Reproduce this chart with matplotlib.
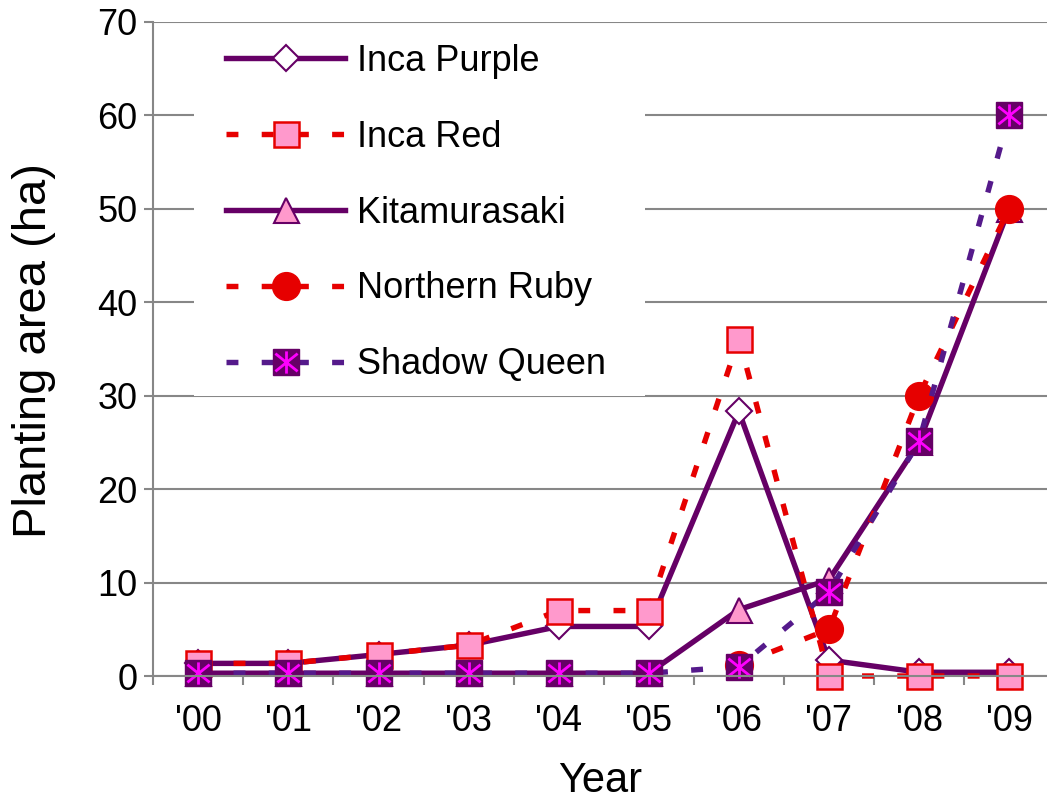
import numpy as np
import matplotlib
matplotlib.use("Agg")
import matplotlib.pyplot as plt
from matplotlib.path import Path
from matplotlib.patches import Rectangle

plt.rcParams["font.family"] = ["Liberation Sans", "DejaVu Sans"]

# Planting area (ha) per cultivar, 2000-2009
years = ["'00", "'01", "'02", "'03", "'04", "'05", "'06", "'07", "'08", "'09"]
inca_purple = [1.35, 1.35, 2.3, 3.3, 5.3, 5.3, 28.3, 1.7, 0.4, 0.4]
inca_red = [1.35, 1.35, 2.3, 3.3, 7.0, 7.0, 36.1, 0.0, 0.0, 0.0]
kitamurasaki = [0.3, 0.3, 0.3, 0.3, 0.3, 0.3, 7.1, 10.3, 25.0, 50.0]
northern_ruby = [np.nan, np.nan, np.nan, np.nan, np.nan, np.nan, 1.2, 5.0, 30.0, 50.0]
shadow_queen = [0.3, 0.3, 0.3, 0.3, 0.3, 0.3, 1.0, 9.0, 25.1, 60.0]

PURPLE = "#660066"
RED = "#E60000"
PINK = "#FF99CC"
INDIGO = "#551A8B"
MAGENTA = "#FF00FF"
GRID = "#878787"

# square-with-asterisk marker: vertical bar plus an X
star = Path(
    [(0, -1), (0, 1), (-1, -0.8), (1, 0.8), (-1, 0.8), (1, -0.8)],
    [Path.MOVETO, Path.LINETO, Path.MOVETO, Path.LINETO, Path.MOVETO, Path.LINETO],
)
dash = (0, (2.2, 4.3))
LW = 3.9

fig = plt.figure(figsize=(10.47, 8), dpi=100)
ax = fig.add_axes([0.1464, 0.155, 0.8536, 0.8179])
x = np.arange(len(years))

l1, = ax.plot(x, inca_purple, color=PURPLE, lw=LW, marker="D", ms=13.5,
              mfc="white", mec=PURPLE, mew=1.5, clip_on=False)
l2, = ax.plot(x, inca_red, color=RED, lw=LW, ls=dash, marker="s", ms=18,
              mfc=PINK, mec=RED, mew=1.8, clip_on=False)
l3, = ax.plot(x, kitamurasaki, color=PURPLE, lw=LW, marker="^", ms=18,
              mfc=PINK, mec=PURPLE, mew=1.5, clip_on=False)
l4, = ax.plot(x, northern_ruby, color=RED, lw=LW, ls=dash, marker="o", ms=20,
              mfc=RED, mec=RED, clip_on=False)
l5, = ax.plot(x, shadow_queen, color=INDIGO, lw=LW, ls=dash, marker="s", ms=19,
              mfc=PURPLE, mec=PURPLE, mew=1, clip_on=False)
l5s, = ax.plot(x, shadow_queen, ls="none", marker=star, ms=16,
               mfc="none", mec=MAGENTA, mew=2, clip_on=False)

# white panel behind the legend hides the gridlines
ax.add_patch(Rectangle((0.0455, 30 / 70), 0.5045, 1 - 30 / 70 - 0.003,
                       transform=ax.transAxes, fc="white", ec="none", zorder=1))

ax.legend([l1, l2, l3, l4, (l5, l5s)],
          ["Inca Purple", "Inca Red", "Kitamurasaki", "Northern Ruby", "Shadow Queen"],
          loc="upper left", bbox_to_anchor=(0.0813, 0.966), frameon=False,
          fontsize=26, handlelength=3.3, handletextpad=0.33, labelspacing=1.13,
          borderpad=0, borderaxespad=0, numpoints=1)

ax.set_xlim(-0.5, 9.42)
ax.set_ylim(0, 70)
ax.set_yticks(range(0, 80, 10))
ax.set_xticks(x)
ax.set_xticklabels(years)
ax.set_xticks(np.arange(-0.5, 9, 1), minor=True)
ax.tick_params(axis="x", which="major", length=0, pad=20, labelsize=26)
ax.tick_params(axis="x", which="minor", length=6.5, width=1.5, color=GRID)
ax.tick_params(axis="y", length=6.5, width=1.5, color=GRID, labelsize=26, pad=5)

ax.grid(axis="y", color=GRID, lw=1.5)
ax.set_axisbelow(True)
for side in ("top", "right"):
    ax.spines[side].set_visible(False)
for side in ("left", "bottom"):
    ax.spines[side].set_color(GRID)
    ax.spines[side].set_linewidth(1.5)

ax.set_xlabel("Year", fontsize=30, va="center")
ax.xaxis.set_label_coords(0.5, -0.161)
ax.set_ylabel("Planting area (ha)", fontsize=34, ha="center", va="center")
ax.yaxis.set_label_coords(-0.134, 0.498)

fig.savefig("out.png", dpi=100)
